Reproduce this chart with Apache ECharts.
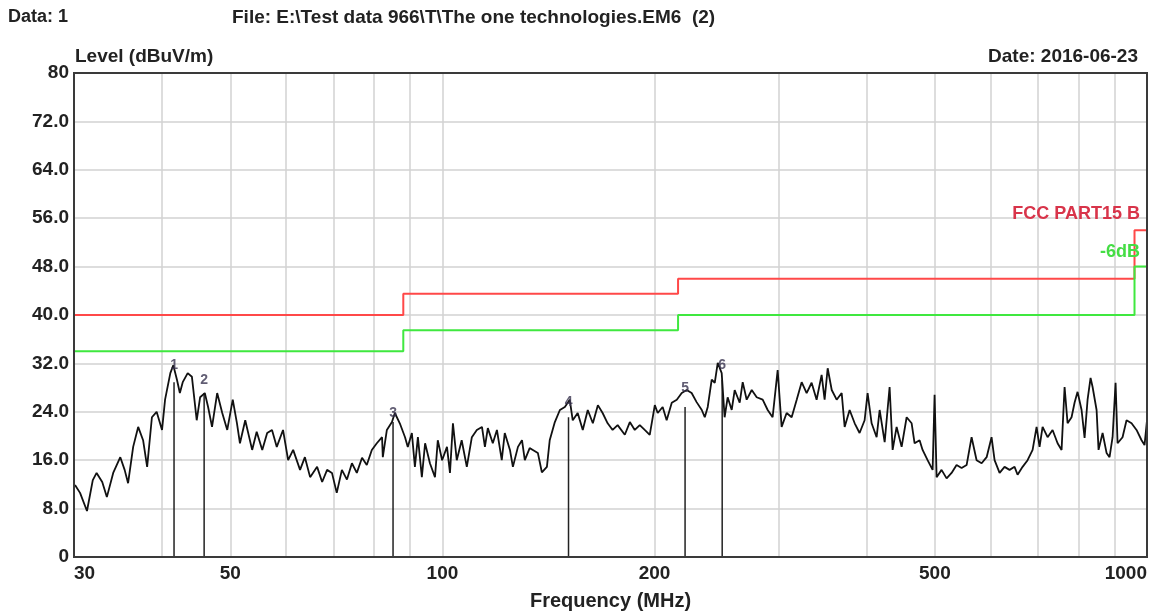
<!DOCTYPE html>
<html>
<head>
<meta charset="utf-8">
<script src="https://cdn.jsdelivr.net/npm/echarts@6/dist/echarts.min.js"></script>
<style>
  html, body { margin: 0; padding: 0; background: #fff; }
  #chart { width: 1173px; height: 612px; }
</style>
</head>
<body>
<div id="chart"></div>
<script>
// measured trace, frequency in MHz and level in dBuV/m
const traceFreq = [
  30.1, 30.6, 31.3, 31.9, 32.3, 32.9, 33.4, 34.1, 34.9, 35.4, 35.8, 36.4, 37.0, 37.6, 38.1, 38.7, 39.3, 40.0, 40.4, 41.1,
  41.5, 42.0, 42.4, 42.8, 43.5, 44.1, 44.8, 45.3, 46.0, 46.5, 47.1, 47.9, 48.7, 49.5, 50.4, 51.1, 51.6, 52.5, 53.7, 54.5,
  55.5, 56.4, 57.3, 58.2, 59.4, 60.4, 61.4, 62.8, 63.8, 64.9, 66.4, 67.5, 68.6, 69.7, 70.8, 72.0, 73.2, 74.4, 75.6, 76.9,
  78.1, 79.4, 80.7, 82.1, 82.3, 83.4, 84.8, 85.6, 87.0, 88.5, 89.3, 90.5, 91.4, 92.3, 93.5, 94.5, 96.0, 97.6, 98.5, 99.9,
  101.5, 102.5, 103.5, 104.8, 106.5, 108.3, 110.1, 111.9, 113.8, 114.9, 116.0, 117.9, 119.5, 121.4, 122.6, 124.7, 125.9, 128.0, 129.7, 130.9,
  133.0, 134.4, 136.6, 138.4, 140.7, 142.0, 144.4, 146.8, 149.2, 151.6, 153.1, 155.6, 158.2, 160.8, 163.5, 166.2, 168.8, 171.6, 174.4, 177.3,
  181.5, 184.5, 187.5, 190.6, 193.7, 196.9, 200.2, 202.1, 205.4, 208.1, 211.6, 215.1, 218.6, 222.2, 225.8, 229.5, 233.4, 235.7, 238.0, 241.1,
  243.5, 245.9, 249.1, 251.5, 254.0, 257.4, 259.9, 264.2, 266.8, 270.3, 274.8, 279.3, 284.8, 289.5, 294.2, 299.1, 303.0, 308.0, 313.1, 318.3,
  323.5, 328.8, 334.2, 339.7, 345.3, 348.7, 352.2, 356.9, 362.7, 368.7, 372.3, 378.4, 384.7, 390.9, 397.4, 401.3, 406.6, 413.3, 417.4, 424.3,
  431.2, 435.5, 441.2, 448.5, 455.9, 463.4, 467.9, 475.6, 480.3, 488.2, 496.3, 499.5, 502.8, 511.0, 519.5, 528.0, 536.7, 545.6, 554.6, 563.7,
  573.0, 582.5, 592.1, 601.7, 607.7, 617.7, 627.8, 638.2, 648.7, 655.1, 665.9, 676.9, 688.1, 697.1, 703.9, 710.9, 722.6, 734.5, 746.6, 756.4,
  763.9, 771.4, 781.5, 789.2, 797.0, 807.5, 815.5, 823.5, 831.6, 837.1, 848.1, 853.6, 864.9, 876.2, 884.8, 893.6, 902.4, 908.3, 923.2, 935.3,
  950.8, 966.4, 982.4, 992.0, 1000
];
const traceLevel = [
  11.9, 10.6, 7.6, 12.7, 13.9, 12.4, 9.9, 13.9, 16.5, 14.4, 12.2, 18.2, 21.5, 19.3, 14.9, 23.1, 24.0, 21.0, 26.0, 30.4,
  31.7, 29.3, 27.1, 28.9, 30.4, 29.8, 22.6, 26.4, 27.1, 24.8, 21.5, 27.1, 23.8, 21.0, 26.0, 22.1, 18.8, 22.6, 17.7, 20.7,
  17.7, 20.5, 21.0, 18.2, 21.0, 16.0, 17.7, 14.4, 16.5, 13.2, 14.9, 12.4, 14.4, 13.9, 10.6, 14.4, 12.8, 15.5, 13.9, 16.4,
  15.2, 17.7, 18.8, 19.8, 16.5, 21.0, 22.3, 23.8, 22.1, 19.8, 18.2, 20.5, 14.9, 19.8, 13.2, 18.8, 15.5, 13.2, 19.3, 16.0,
  18.2, 13.9, 22.1, 16.0, 19.3, 14.9, 19.8, 21.0, 21.5, 18.2, 21.3, 18.8, 21.0, 16.0, 20.5, 17.7, 14.9, 18.2, 19.3, 16.0,
  18.0, 17.7, 17.2, 14.0, 14.9, 19.3, 22.3, 24.3, 24.8, 26.0, 22.6, 23.8, 21.0, 24.3, 22.1, 25.1, 23.8, 22.1, 21.0, 21.8,
  20.2, 22.3, 21.0, 21.8, 21.0, 20.2, 25.1, 23.8, 24.8, 22.6, 25.5, 26.0, 27.1, 27.6, 27.1, 25.6, 24.3, 23.1, 24.8, 29.3,
  28.8, 32.1, 30.4, 23.1, 26.4, 24.3, 27.6, 25.5, 28.9, 26.0, 27.6, 26.4, 26.0, 24.3, 23.1, 30.9, 21.5, 23.8, 23.1, 26.0,
  28.9, 27.1, 28.8, 26.0, 30.1, 26.0, 31.2, 27.6, 26.0, 27.1, 21.5, 24.3, 22.1, 20.5, 22.6, 27.1, 22.1, 19.8, 24.3, 19.0,
  28.1, 17.7, 21.5, 18.2, 23.1, 22.1, 18.8, 19.3, 17.7, 16.0, 14.4, 26.8, 13.2, 14.4, 13.0, 13.9, 15.2, 14.7, 15.2, 19.8,
  16.0, 15.5, 16.5, 19.8, 16.0, 13.9, 14.9, 14.4, 14.9, 13.6, 14.9, 16.0, 17.7, 21.5, 18.2, 21.5, 19.8, 21.0, 18.8, 17.7,
  28.1, 22.1, 23.1, 25.5, 27.3, 24.3, 19.7, 26.0, 29.6, 28.1, 24.3, 17.7, 20.5, 17.2, 16.5, 19.8, 28.8, 18.8, 19.8, 22.6,
  22.1, 21.0, 19.3, 18.5, 22.6
];

// FCC Part 15 class B limit and the -6 dB margin line
const limitFreq = [30, 88, 88, 216, 216, 960, 960, 1000];
const limitLevel = [40, 40, 43.5, 43.5, 46, 46, 54, 54];
const marginLevel = [34, 34, 37.5, 37.5, 40, 40, 48, 48];

// peak markers
const markerNo = [1, 2, 3, 4, 5, 6];
const markerFreq = [41.6, 45.9, 85.1, 151.0, 221.0, 249.5];
const markerLevel = [28.9, 27.1, 22.3, 23.1, 24.8, 29.3];
const markerPeak = [31.7, 29.3, 23.8, 25.6, 27.9, 31.7];

const xLabelValues = [30, 50, 100, 200, 500, 1000];
const xGridValues = [30, 40, 50, 60, 70, 80, 90, 100, 200, 300, 400, 500, 600, 700, 800, 900, 1000];

const FONT = '"Liberation Sans", Arial, sans-serif';

const chart = echarts.init(document.getElementById('chart'));

const markerSeries = markerFreq.map((f, i) => ({
  type: 'line',
  silent: true,
  symbol: 'none',
  lineStyle: { color: '#222', width: 1.5 },
  data: [[f, 0], [f, markerLevel[i]]],
  z: 3
}));

chart.setOption({
  animation: false,
  backgroundColor: '#fff',
  grid: {
    left: 74, right: 26, top: 73, bottom: 55,
    outerBoundsMode: 'none',
    show: true, borderColor: '#3a3a3a', borderWidth: 2, backgroundColor: '#fff'
  },
  graphic: [
    { type: 'text', left: 8, top: 8, style: { text: 'Data: 1', font: 'bold 18px ' + FONT, fill: '#222' } },
    { type: 'text', left: 232, top: 8, style: { text: 'File: E:\\Test data 966\\T\\The one technologies.EM6  (2)', font: 'bold 19px ' + FONT, fill: '#222' } },
    { type: 'text', left: 75, top: 47, style: { text: 'Level (dBuV/m)', font: 'bold 19px ' + FONT, fill: '#222' } },
    { type: 'text', right: 35, top: 47, style: { text: 'Date: 2016-06-23', font: 'bold 19px ' + FONT, fill: '#222' } },
    { type: 'text', right: 33, top: 205, z: 10, style: { text: 'FCC PART15 B', font: 'bold 18px ' + FONT, fill: '#d8344a' } },
    { type: 'text', right: 33, top: 243, z: 10, style: { text: '-6dB', font: 'bold 18px ' + FONT, fill: '#44dd44' } },
    // plot frame drawn on top of the split lines
    { type: 'rect', z: 20, silent: true, shape: { x: 74, y: 73, width: 1073, height: 484 },
      style: { fill: 'none', stroke: '#3a3a3a', lineWidth: 2 } }
  ],
  xAxis: {
    type: 'log',
    logBase: 10,
    min: 30,
    max: 1000,
    name: 'Frequency (MHz)',
    nameLocation: 'middle',
    nameGap: 34,
    nameTextStyle: { fontFamily: FONT, fontSize: 20, fontWeight: 'bold', color: '#222' },
    axisLine: { show: true, lineStyle: { color: '#3a3a3a', width: 2 } },
    axisTick: { show: false, customValues: xGridValues },
    axisLabel: {
      customValues: xLabelValues,
      margin: 7,
      fontFamily: FONT, fontSize: 19, fontWeight: 'bold', color: '#222',
      alignMinLabel: 'left', alignMaxLabel: 'right',
      formatter: v => String(v)
    },
    splitLine: { show: true, lineStyle: { color: '#d2d2d2', width: 1.5 } },
    minorTick: { show: false },
    minorSplitLine: { show: false }
  },
  yAxis: {
    type: 'value',
    min: 0,
    max: 80,
    interval: 8,
    axisLine: { show: true, lineStyle: { color: '#3a3a3a', width: 2 } },
    axisTick: { show: false },
    axisLabel: {
      margin: 5,
      fontFamily: FONT, fontSize: 19, fontWeight: 'bold', color: '#222',
      formatter: v => (v === 0 || v === 80) ? String(v) : v.toFixed(1)
    },
    splitLine: { show: true, lineStyle: { color: '#d2d2d2', width: 1.5 } }
  },
  series: [
    {
      name: 'FCC PART15 B',
      type: 'line',
      symbol: 'none',
      lineStyle: { color: '#ff4848', width: 2 },
      data: limitFreq.map((f, i) => [f, limitLevel[i]]),
      z: 2
    },
    {
      name: '-6dB',
      type: 'line',
      symbol: 'none',
      lineStyle: { color: '#3fe83f', width: 2 },
      data: limitFreq.map((f, i) => [f, marginLevel[i]]),
      z: 2
    },
    {
      name: 'Level',
      type: 'line',
      symbol: 'none',
      lineStyle: { color: '#111', width: 1.8 },
      data: traceFreq.map((f, i) => [f, traceLevel[i]]),
      z: 4
    },
    ...markerSeries,
    {
      type: 'scatter',
      symbolSize: 1,
      itemStyle: { color: 'rgba(0,0,0,0)' },
      label: {
        show: true,
        position: 'inside',
        formatter: p => String(markerNo[p.dataIndex]),
        fontFamily: FONT, fontSize: 14, fontWeight: 'bold', color: '#3a3450'
      },
      data: markerFreq.map((f, i) => [f, markerPeak[i]]),
      z: 5
    }
  ]
});
</script>
</body>
</html>
